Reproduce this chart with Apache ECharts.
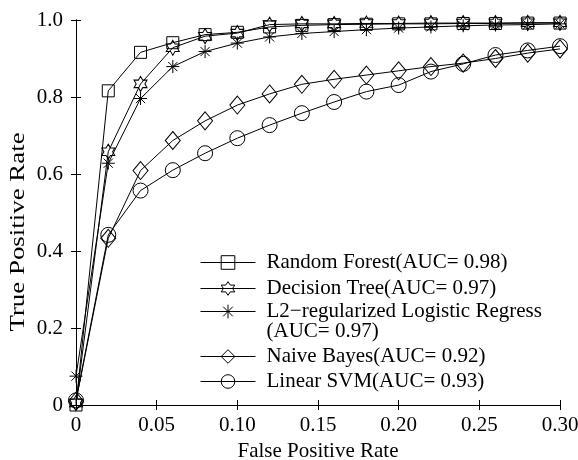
<!DOCTYPE html>
<html>
<head>
<meta charset="utf-8">
<script src="https://cdn.jsdelivr.net/npm/echarts@6/dist/echarts.min.js"></script>
<style>
html,body{margin:0;padding:0;background:#fff;}
#chart{width:578px;height:460px;}
</style>
</head>
<body>
<div id="chart"></div>
<script>
// ---- data ----
const fpr = [0, 0.02, 0.04, 0.06, 0.08, 0.10, 0.12, 0.14, 0.16, 0.18, 0.20, 0.22, 0.24, 0.26, 0.28, 0.30];
const randomForest = [0.0, 0.816, 0.916, 0.941, 0.962, 0.968, 0.982, 0.986, 0.988, 0.989, 0.990, 0.990, 0.991, 0.991, 0.992, 0.992];
const decisionTree = [0.005, 0.658, 0.834, 0.928, 0.958, 0.966, 0.988, 0.990, 0.990, 0.991, 0.991, 0.992, 0.992, 0.992, 0.993, 0.993];
const logistic = [0.075, 0.628, 0.796, 0.879, 0.918, 0.940, 0.956, 0.965, 0.970, 0.975, 0.979, 0.982, 0.985, 0.987, 0.988, 0.990];
const naiveBayes = [0.010, 0.433, 0.609, 0.687, 0.738, 0.779, 0.808, 0.833, 0.846, 0.857, 0.868, 0.879, 0.888, 0.900, 0.914, 0.925];
const linearSVM = [0.012, 0.442, 0.557, 0.610, 0.654, 0.693, 0.727, 0.758, 0.787, 0.814, 0.831, 0.866, 0.886, 0.909, 0.921, 0.932];

const seriesNames = [
  'Random Forest(AUC= 0.98)',
  'Decision Tree(AUC= 0.97)',
  'L2\u2212regularized Logistic Regress\n(AUC= 0.97)',
  'Naive Bayes(AUC= 0.92)',
  'Linear SVM(AUC= 0.93)'
];
const xTicks = {min: 0, max: 0.3, interval: 0.05};
const yTicks = {min: 0, max: 1, interval: 0.2};
const xTitle = 'False Positive Rate';
const yTitle = 'True Positive Rate';

// ---- styling ----
const FONT = 'Liberation Serif';
const FS = 21;
const starPath = 'path://M10,0L12.89,5L18.66,5L15.77,10L18.66,15L12.89,15L10,20L7.11,15L1.34,15L4.23,10L1.34,5L7.11,5Z';
const asteriskPath = 'path://M0,10L20,10M10,0L10,20M2.93,2.93L17.07,17.07M2.93,17.07L17.07,2.93';

function pairs(ys){ return fpr.map((x,i)=>[x, ys[i]]); }

function mkSeries(name, ys, symbol, size){
  return {
    name: name, type: 'line', data: pairs(ys),
    symbol: symbol, symbolSize: size, showAllSymbol: true,
    lineStyle: {color: '#000', width: 1},
    itemStyle: {color: 'rgba(255,255,255,0)', borderColor: '#000', borderWidth: 1},
    emphasis: {disabled: true},
    animation: false
  };
}

const axisCommon = {
  type: 'value',
  axisLine: {show: true, lineStyle: {color: '#000', width: 1}},
  axisTick: {show: true, inside: true, length: 5, lineStyle: {color: '#000', width: 1}},
  splitLine: {show: false}
};

const legendBase = {
  orient: 'vertical', left: 200, padding: 0, itemWidth: 55, itemHeight: 17,
  textStyle: {color: '#000', fontFamily: FONT, fontSize: FS, lineHeight: 20, padding: [0,0,0,6]},
  itemStyle: {color: 'rgba(255,255,255,0)', borderColor: '#000', borderWidth: 1},
  lineStyle: {color: '#000', width: 1},
  selectedMode: false
};

const chart = echarts.init(document.getElementById('chart'), null, {renderer: 'canvas'});
chart.setOption({
  animation: false,
  backgroundColor: '#fff',
  grid: {left: 76, right: 18, top: 20, bottom: 55, containLabel: false, outerBoundsMode: 'none'},
  xAxis: [
    Object.assign({}, axisCommon, xTicks, {
      position: 'bottom',
      axisLabel: {color: '#000', fontFamily: FONT, fontSize: FS, margin: 10,
        formatter: v => v === 0 ? '0' : v.toFixed(2)},
      name: xTitle, nameLocation: 'middle', nameGap: 32,
      nameTextStyle: {color: '#000', fontFamily: FONT, fontSize: FS}
    }),
    Object.assign({}, axisCommon, xTicks, {position: 'top', axisLabel: {show: false}})
  ],
  yAxis: [
    Object.assign({}, axisCommon, yTicks, {
      position: 'left',
      axisLabel: {color: '#000', fontFamily: FONT, fontSize: FS, margin: 13,
        formatter: v => v === 0 ? '0' : v.toFixed(1)}
    }),
    Object.assign({}, axisCommon, yTicks, {position: 'right', axisLabel: {show: false}})
  ],
  legend: [
    Object.assign({}, legendBase, {top: 252, itemGap: 5, data: [seriesNames[0], seriesNames[1]]}),
    Object.assign({}, legendBase, {top: 281, data: [seriesNames[2]], formatter: n => '\n' + n}),
    Object.assign({}, legendBase, {top: 346, itemGap: 4, data: [seriesNames[3], seriesNames[4]]})
  ],
  graphic: [{
    type: 'text', x: 18, y: 232, rotation: Math.PI / 2, scaleX: 1.28,
    style: {text: yTitle, font: FS + 'px "' + FONT + '"', fill: '#000', align: 'center', verticalAlign: 'middle'}
  }],
  series: [
    mkSeries(seriesNames[0], randomForest, 'rect', 12),
    mkSeries(seriesNames[1], decisionTree, starPath, [13, 15]),
    mkSeries(seriesNames[2], logistic, asteriskPath, 13),
    mkSeries(seriesNames[3], naiveBayes, 'diamond', [15, 18]),
    mkSeries(seriesNames[4], linearSVM, 'circle', 15)
  ]
});
</script>
</body>
</html>
